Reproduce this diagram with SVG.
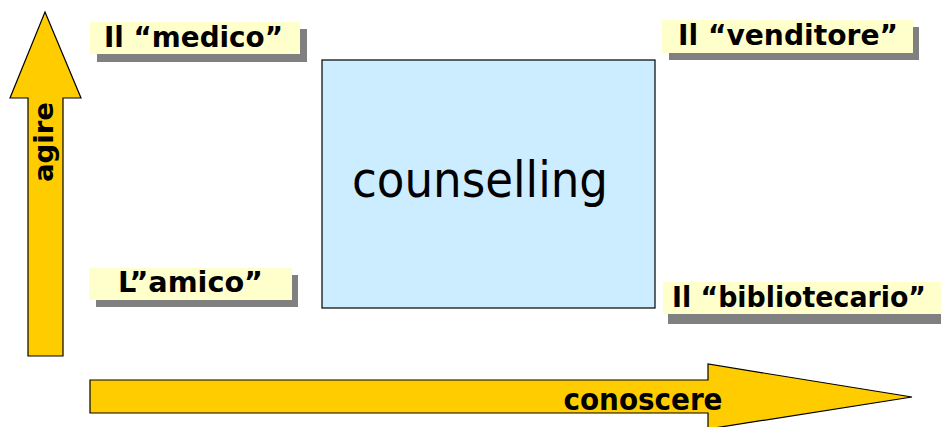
<svg xmlns="http://www.w3.org/2000/svg" width="941" height="427" viewBox="0 0 941 427">
<style>
.arrow{fill:#FFCC00;stroke:#000;stroke-width:1.2;stroke-linejoin:miter}
.lbl{fill:#FFFFCC}
.shd{fill:#808080}
.t{font-family:"DejaVu Sans","Liberation Sans",sans-serif;font-weight:bold;fill:#000}
.c{font-family:"DejaVu Sans","Liberation Sans",sans-serif;fill:#000}
</style>
<rect width="941" height="427" fill="#fff"/>
<g id="axis-agire">
<polygon class="arrow" points="45,12 81,98 63,98 63,356 28,356 28,98 10,98"/>
<text class="t" font-size="26" text-anchor="middle" textLength="80" lengthAdjust="spacingAndGlyphs" transform="translate(53,142) rotate(-90)">agire</text>
</g>
<g id="axis-conoscere">
<polygon class="arrow" points="90,380 708,380 708,364 912,397 708,429 708,413 90,413"/>
<text class="t" font-size="31" text-anchor="middle" textLength="159" lengthAdjust="spacingAndGlyphs" x="643" y="410">conoscere</text>
</g>
<g id="counselling">
<rect x="322" y="60" width="333" height="248" fill="#CCECFF" stroke="#000" stroke-width="1.2"/>
<text class="c" font-size="49" text-anchor="middle" textLength="256" lengthAdjust="spacingAndGlyphs" x="480" y="197">counselling</text>
</g>
<g id="medico">
<rect class="shd" x="97" y="29" width="210" height="33"/>
<rect class="lbl" x="90" y="22" width="210" height="32"/>
<text class="t" font-size="29" textLength="179" lengthAdjust="spacingAndGlyphs" x="104" y="47">Il “medico”</text>
</g>
<g id="venditore">
<rect class="shd" x="669" y="27" width="250" height="33"/>
<rect class="lbl" x="662" y="20" width="251" height="33"/>
<text class="t" font-size="29" textLength="220" lengthAdjust="spacingAndGlyphs" x="678" y="45">Il “venditore”</text>
</g>
<g id="amico">
<rect class="shd" x="96" y="275" width="202" height="32"/>
<rect class="lbl" x="89" y="268" width="203" height="32"/>
<text class="t" font-size="29" textLength="145" lengthAdjust="spacingAndGlyphs" x="118" y="292">L”amico”</text>
</g>
<g id="bibliotecario">
<rect class="shd" x="668" y="291" width="273" height="33"/>
<rect class="lbl" x="663" y="282" width="278" height="32"/>
<text class="t" font-size="28" textLength="254" lengthAdjust="spacingAndGlyphs" x="672" y="307">Il “bibliotecario”</text>
</g>
</svg>
